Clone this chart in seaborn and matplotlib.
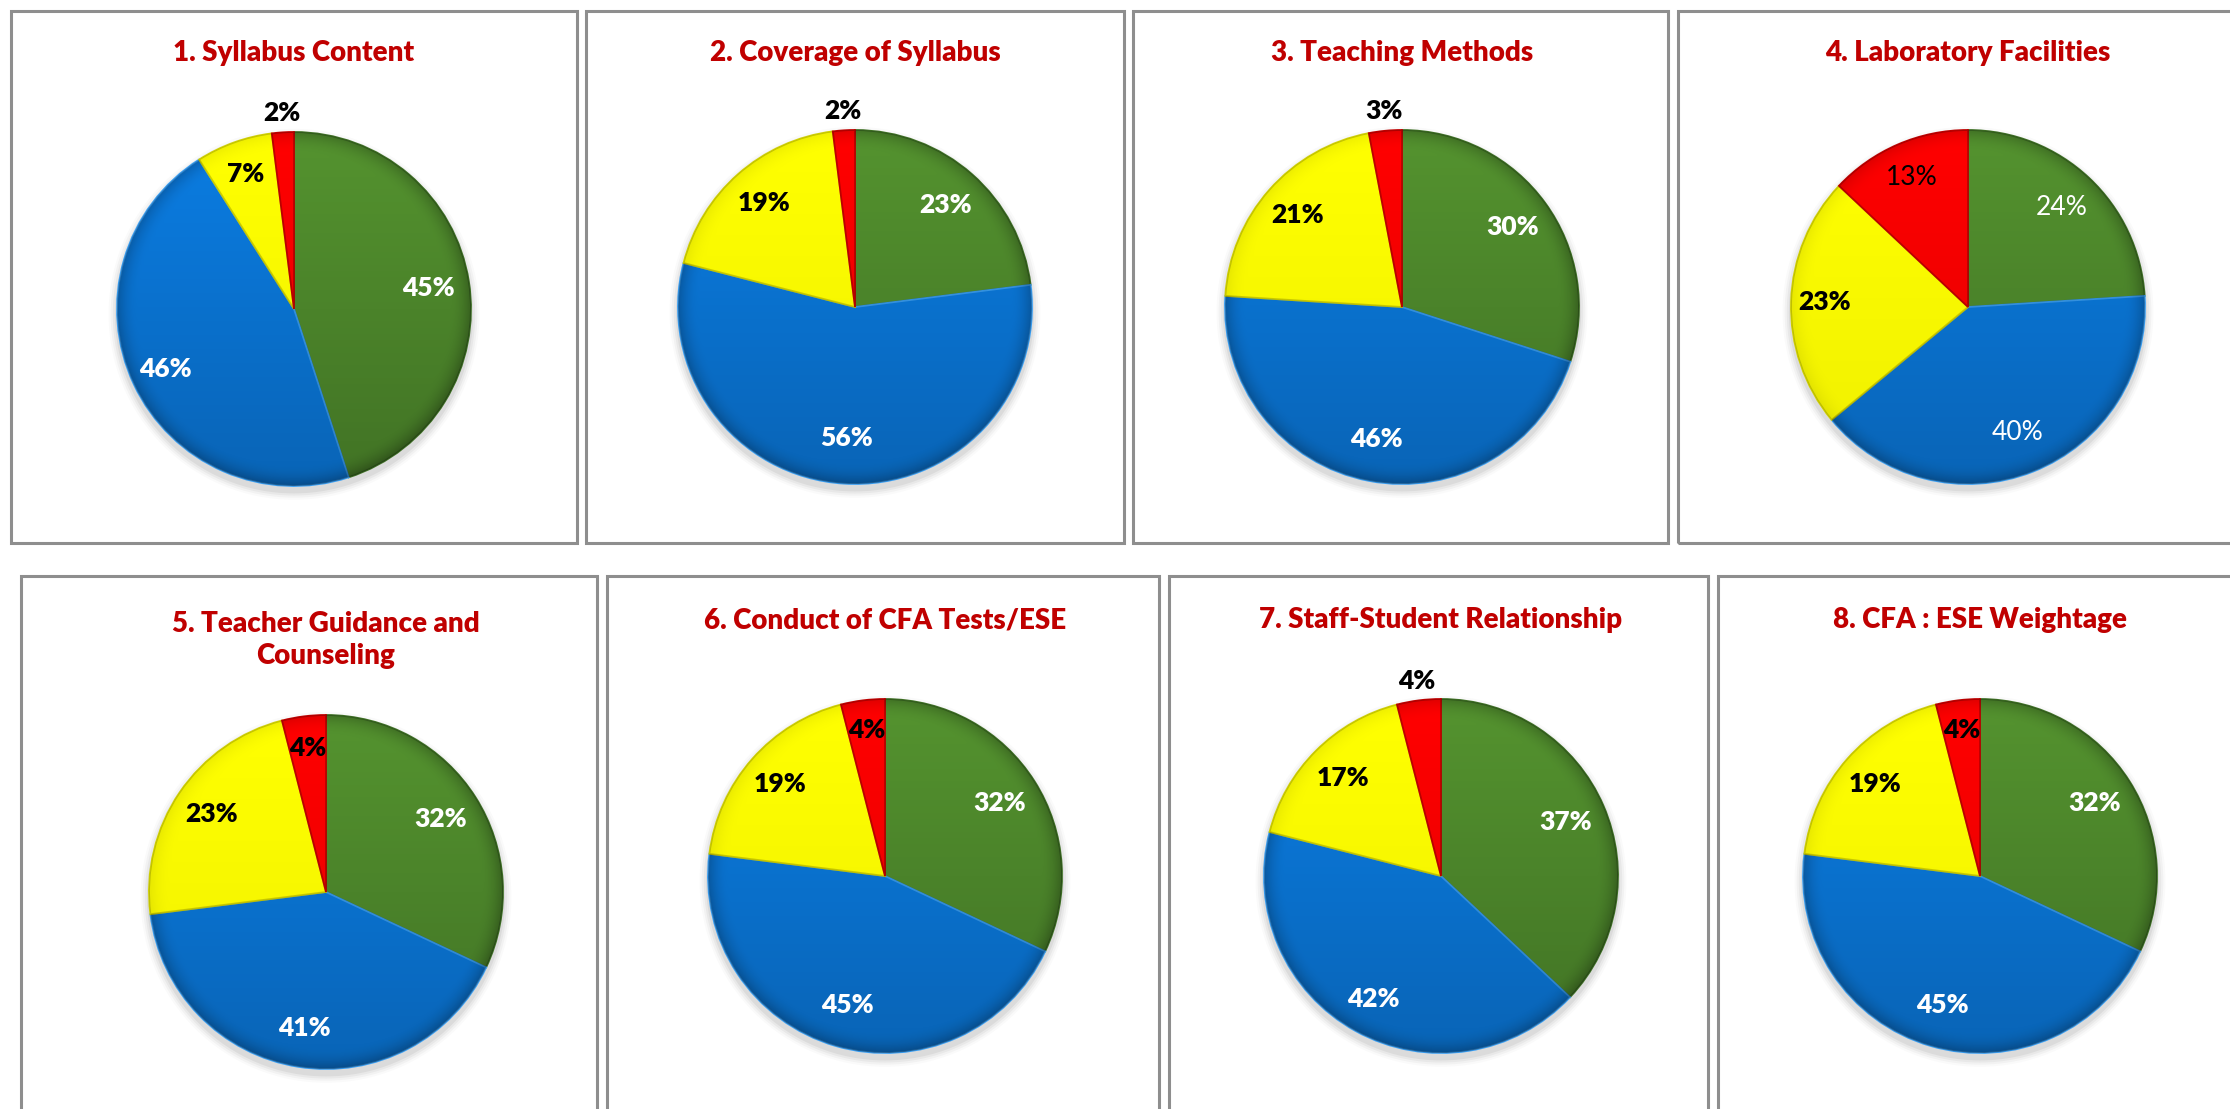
import numpy as np
import matplotlib
matplotlib.use("Agg")
import matplotlib.pyplot as plt
from matplotlib.patches import Rectangle, Circle
import seaborn as sns

# ---------------- data ----------------
titles = ["1. Syllabus Content", "2. Coverage of Syllabus", "3. Teaching Methods",
          "4. Laboratory Facilities", "5. Teacher Guidance and\nCounseling",
          "6. Conduct of CFA Tests/ESE", "7. Staff-Student Relationship",
          "8. CFA : ESE Weightage"]
green_vals = [45, 23, 30, 24, 32, 32, 37, 32]
blue_vals = [46, 56, 46, 40, 41, 45, 42, 45]
yellow_vals = [7, 19, 21, 23, 23, 19, 17, 19]
red_vals = [2, 2, 3, 13, 4, 4, 4, 4]

# ---------------- style / layout ----------------
sns.set_theme(style="white")
plt.rcParams["font.family"] = ["Lato", "DejaVu Sans"]

slice_colors = sns.color_palette(["#54932F", "#0B7DE3", "#FFFF00", "#FF0000"])
edge_colors = ["#3E7024", "#3AA0F5", "#D0D000", "#C00000"]
shade_strength = [1.0, 0.9, 0.3, 0.55]
text_colors = ["white", "white", "black", "black"]
title_color = "#C00000"

W, H = 2230, 1109
# pie centre (px), radius (px)
centers = [(294, 309), (855, 307), (1402, 307), (1968, 307),
           (326, 892), (885, 876), (1441, 876), (1980, 876)]
radius = 177
# label radial distances (fraction of radius) per slice
label_dist = [
    [0.77, 0.80, 0.81, 1.11],
    [0.77, 0.74, 0.78, 1.11],
    [0.77, 0.76, 0.79, 1.11],
    [0.77, 0.76, 0.81, 0.80],
    [0.77, 0.78, 0.78, 0.82],
    [0.77, 0.76, 0.79, 0.83],
    [0.77, 0.79, 0.78, 1.11],
    [0.77, 0.76, 0.79, 0.83],
]
label_bold = [[True] * 4] * 3 + [[False, False, True, False]] + [[True] * 4] * 4
# panel boxes (x0, y0, x1, y1) in px
boxes = [(11, 11, 577, 543), (586, 11, 1124, 543), (1133, 11, 1668, 543),
         (1678, 11, 2240, 543),
         (21, 576, 597, 1120), (607, 576, 1159, 1120), (1169, 576, 1708, 1120),
         (1718, 576, 2240, 1120)]
title_y = [53, 53, 53, 53, 640, 620, 620, 620]

fig = plt.figure(figsize=(W / 100, H / 100), dpi=100)
fig.patch.set_facecolor("white")

for (x0, y0, x1, y1) in boxes:
    fig.patches.append(Rectangle((x0 / W, 1 - y1 / H), (x1 - x0) / W, (y1 - y0) / H,
                                 transform=fig.transFigure, fill=False,
                                 edgecolor="#8E8E8E", linewidth=2.2))

# shading image (darker at bottom and near rim)
n = 400
gx, gy = np.meshgrid(np.linspace(-1, 1, n), np.linspace(1, -1, n))
rr = np.sqrt(gx ** 2 + gy ** 2)
base_alpha = 0.22 * (1 - gy) / 2 + 0.22 * np.clip((rr - 0.88) / 0.12, 0, 1) ** 2

lim = 1.35
for i in range(8):
    cx, cy = centers[i]
    size = 2 * lim * radius
    ax = fig.add_axes([(cx - size / 2) / W, 1 - (cy + size / 2) / H, size / W, size / H])
    vals = [green_vals[i], blue_vals[i], yellow_vals[i], red_vals[i]]
    # soft drop shadow
    for k, a in enumerate([0.05, 0.04, 0.03, 0.02]):
        ax.add_patch(Circle((0.0, -0.03), 1.0 + 0.012 * (k + 1), color="black",
                            alpha=a, zorder=0, lw=0))
    wedges, _ = ax.pie(vals, colors=slice_colors, startangle=90, counterclock=False,
                       radius=1.0, center=(0, 0),
                       wedgeprops=dict(linewidth=1.3, zorder=2))
    for j, w in enumerate(wedges):
        w.set_edgecolor(edge_colors[j])
        shade = np.zeros((n, n, 4))
        shade[..., 3] = np.clip(base_alpha * shade_strength[j], 0, 0.45)
        im = ax.imshow(shade, extent=(-1, 1, -1, 1), zorder=3, interpolation="bilinear")
        im.set_clip_path(w)
    for j, w in enumerate(wedges):
        ang = np.deg2rad((w.theta1 + w.theta2) / 2)
        d = label_dist[i][j]
        ax.text(d * np.cos(ang), d * np.sin(ang), f"{vals[j]}%",
                ha="center", va="center", fontsize=19,
                color=text_colors[j],
                fontweight="heavy" if label_bold[i][j] else "normal", zorder=5)
    ax.set_xlim(-lim, lim)
    ax.set_ylim(-lim, lim)
    ax.set_aspect("equal")
    ax.axis("off")
    fig.text(cx / W, 1 - title_y[i] / H, titles[i], ha="center", va="center",
             fontsize=20, fontweight="heavy", color=title_color, linespacing=1.25)

fig.savefig("out.png", dpi=100)
